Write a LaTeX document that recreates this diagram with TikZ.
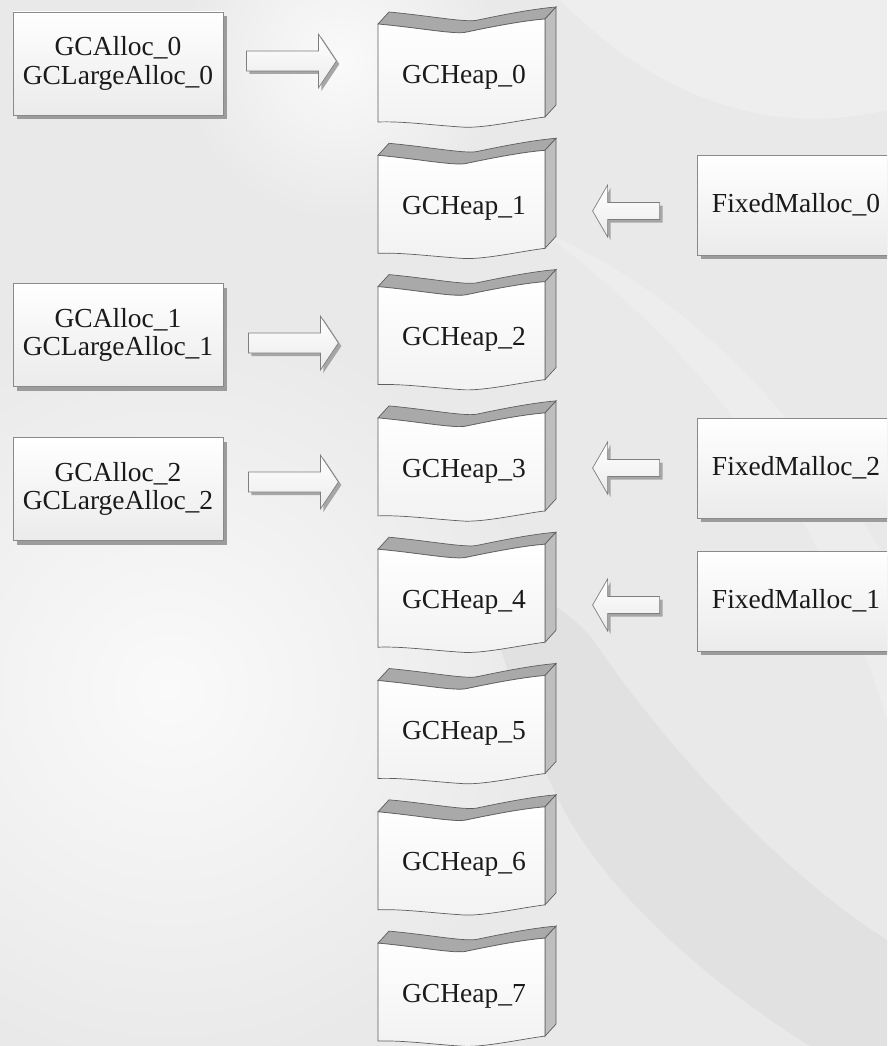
\documentclass[tikz,border=0pt]{standalone}
\usepackage{fontspec}
\setmainfont{Liberation Serif}
\usetikzlibrary{calc,shadows}
\definecolor{bg}{HTML}{E9E9E9}
\definecolor{bgdark}{HTML}{E1E1E1}
\definecolor{bglight}{HTML}{FAFAFA}
\definecolor{boxline}{HTML}{8A8A8A}
\definecolor{boxbot}{HTML}{EBEBEB}
\definecolor{shadowgray}{HTML}{9C9C9C}
\definecolor{heapline}{HTML}{5E5E5E}
\definecolor{heaptop}{HTML}{A9A9A9}
\definecolor{heapside}{HTML}{BEBEBE}
\definecolor{heapbot}{HTML}{F2F2F2}
\definecolor{arrowline}{HTML}{7E7E7E}
\definecolor{ashadow}{HTML}{A6A6A6}
\definecolor{txt}{HTML}{1A1A1A}
\tikzset{
  lbl/.style={font=\fontsize{27.5}{28.5}\selectfont, text=txt, inner sep=0pt},
  lbox/.style={lbl, draw=boxline, line width=0.8pt, top color=white, bottom color=boxbot,
    align=center, minimum width=210pt, minimum height=103pt,
    drop shadow={shadow xshift=4pt, shadow yshift=-4pt, fill=shadowgray, opacity=1}},
  rbox/.style={lbl, draw=boxline, line width=0.8pt, top color=white, bottom color=boxbot,
    minimum width=198pt, minimum height=100pt,
    drop shadow={shadow xshift=4pt, shadow yshift=-4pt, fill=shadowgray, opacity=1}},
  arrowbody/.style={draw=arrowline, line width=0.7pt, top color=white, bottom color=boxbot},
  rarrowpic/.pic={
    \fill[ashadow,shift={(3,3)}] (0,-10) -- (72,-10) -- (72,-27) -- (90,0) -- (72,27) -- (72,10) -- (0,10) -- cycle;
    \path[arrowbody] (0,-10) -- (72,-10) -- (72,-27) -- (90,0) -- (72,27) -- (72,10) -- (0,10) -- cycle;
  },
  larrowpic/.pic={
    \fill[ashadow,shift={(3,3)}] (0,0) -- (15,-26) -- (15,-8.5) -- (67,-8.5) -- (67,8.5) -- (15,8.5) -- (15,26) -- cycle;
    \path[arrowbody] (0,0) -- (15,-26) -- (15,-8.5) -- (67,-8.5) -- (67,8.5) -- (15,8.5) -- (15,26) -- cycle;
  },
  heapshape/.pic={
    \path[fill=heaptop, draw=heapline, line width=0.7pt]
      (-83,-53) .. controls (-40,-49) and (-5,-42) .. (6,-45)
      .. controls (30,-50) and (60,-56) .. (84,-58) -- (95,-70)
      .. controls (71,-68) and (41,-62) .. (17,-57)
      .. controls (6,-54) and (-29,-61) .. (-72,-65) -- cycle;
    \path[fill=heapside, draw=heapline, line width=0.7pt]
      (84,-58) -- (95,-70) -- (95,28) -- (84,40) -- cycle;
    \path[top color=white, bottom color=heapbot, draw=heapline, line width=0.7pt]
      (-83,-53) .. controls (-40,-49) and (-5,-42) .. (6,-45)
      .. controls (30,-50) and (60,-56) .. (84,-58) -- (84,40)
      .. controls (60,43) and (20,52) .. (0,50)
      .. controls (-30,48) and (-60,44) .. (-83,45) -- cycle;
  }
}
\begin{document}
\begin{tikzpicture}[x=1pt,y=-1pt]
\useasboundingbox (0,0) rectangle (887,1046);
\clip (0,0) rectangle (887,1046);
\fill[bg] (0,0) rectangle (887,1046);
% background glow and bands
\shade[inner color=bglight, outer color=bg] (170,690) circle (380pt);
\shade[inner color=bglight, outer color=bg] (340,60) circle (160pt);
\fill[white,opacity=0.25] (560,0) -- (887,0) -- (887,110) .. controls (760,140) and (650,90) .. (560,0) -- cycle;
\fill[white,opacity=0.2] (540,230) .. controls (700,350) and (820,500) .. (887,720) -- (887,560) .. controls (800,420) and (700,300) .. (540,230) -- cycle;
\fill[bgdark] (593,640) .. controls (640,710) and (760,860) .. (887,940) -- (887,1046) -- (810,1046)
  .. controls (720,990) and (610,900) .. (560,803)
  .. controls (520,720) and (500,640) .. (470,560)
  .. controls (530,590) and (570,610) .. (593,640) -- cycle;

% heaps
\foreach \i in {0,...,7} {
  \pic at (461,{77+131.3*\i}) {heapshape};
  \node[lbl] (h\i) at (464,{77+131.3*\i}) {GCHeap\_\i};
}

% left boxes
\node[lbox] (ga0) at (118,63.5) {GCAlloc\_0\\GCLargeAlloc\_0};
\node[lbox] (ga1) at (118,335) {GCAlloc\_1\\GCLargeAlloc\_1};
\node[lbox] (ga2) at (118,489) {GCAlloc\_2\\GCLargeAlloc\_2};

% right boxes
\node[rbox] (fm0) at (796,205) {FixedMalloc\_0};
\node[rbox] (fm2) at (796,468) {FixedMalloc\_2};
\node[rbox] (fm1) at (796,601) {FixedMalloc\_1};

% block arrows
\coordinate (a0) at ($(ga0.east)+(23,-2.5)$);
\coordinate (a1) at ($(ga1.east)+(25,8)$);
\coordinate (a2) at ($(ga2.east)+(25,-7)$);
\pic at (a0) {rarrowpic};
\pic at (a1) {rarrowpic};
\pic at (a2) {rarrowpic};
\coordinate (b0) at ($(fm0.west)+(-104,6)$);
\coordinate (b2) at ($(fm2.west)+(-104,0)$);
\coordinate (b1) at ($(fm1.west)+(-104,4)$);
\pic at (b0) {larrowpic};
\pic at (b2) {larrowpic};
\pic at (b1) {larrowpic};
\end{tikzpicture}
\end{document}
